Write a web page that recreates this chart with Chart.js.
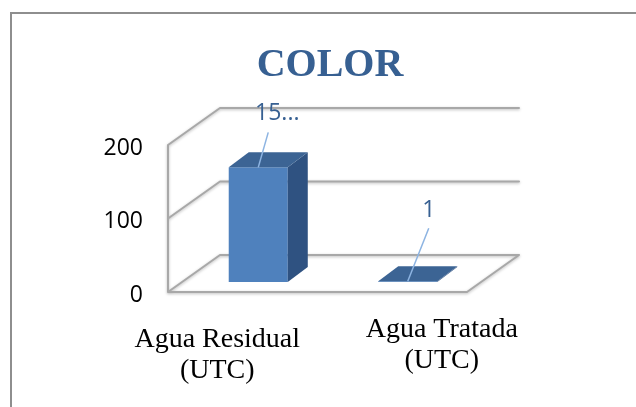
<!DOCTYPE html>
<html>
<head>
<meta charset="utf-8">
<script src="https://cdn.jsdelivr.net/npm/chart.js@4/dist/chart.umd.min.js"></script>
<style>
  html, body { margin: 0; padding: 0; background: #fff; overflow: hidden; width: 636px; height: 407px; }
  #frame { position: absolute; left: 10px; top: 12px; width: 636px; height: 400px; border: 2px solid #8e8e8e; background: #fff; }
  canvas { display: block; }
</style>
</head>
<body>
<div id="frame"><canvas id="c" width="636" height="393"></canvas></div>
<script>
// Chart data
const categories = [['Agua Residual', '(UTC)'], ['Agua Tratada', '(UTC)']];
const colorValues = [156, 1];
const yTicks = [0, 100, 200];

// 3D look: offsets of the floor front edge, back wall and bar depth
// relative to the plane where the bar front faces sit
const depth = {
  front: { dx: -15.5, dy: 10 },
  back: { dx: 36.5, dy: -27 },
  bar: { dx: 20, dy: -15 }
};
const barFront = '#4F81BD';
const barTop = '#3C6494';
const barSide = '#2F5281';
const wallLine = '#a8a8a8';
const labelBlue = '#376092';

// value labels: place relative to bar top, leader-line end relative to bar top
const valueLabelShift = [[19, -47], [21, -64]];
const leaderEnd = [[10, -35], [21, -53]];
// category label placement relative to the category centre / plot bottom
const catLabelShift = [-41, 34];
const catLabelTop = [65, 55];
const catLineGap = 31;

function shortLabel(v) {
  const s = String(v);
  return s.length > 2 ? s.slice(0, 2) + '...' : s;
}

const walls = {
  id: 'walls',
  beforeDatasetsDraw(chart) {
    const { ctx, chartArea: a, scales: { y } } = chart;
    const L = a.left, R = a.right, f = depth.front, b = depth.back;
    ctx.save();
    ctx.strokeStyle = wallLine;
    ctx.lineWidth = 2;
    ctx.lineJoin = 'round';
    ctx.lineCap = 'round';
    ctx.shadowColor = 'rgba(0,0,0,0.28)';
    ctx.shadowBlur = 3;
    ctx.shadowOffsetY = 1;
    ctx.beginPath();
    y.ticks.forEach(t => {
      const py = y.getPixelForValue(t.value);
      ctx.moveTo(L + f.dx, py + f.dy);
      ctx.lineTo(L + b.dx, py + b.dy);
      ctx.lineTo(R + b.dx, py + b.dy);
    });
    const y0 = y.getPixelForValue(y.min), y1 = y.getPixelForValue(y.max);
    ctx.moveTo(L + f.dx, y1 + f.dy);
    ctx.lineTo(L + f.dx, y0 + f.dy);
    ctx.lineTo(R + f.dx, y0 + f.dy);
    ctx.lineTo(R + b.dx, y0 + b.dy);
    ctx.stroke();
    ctx.restore();
  }
};

const solid = {
  id: 'solid',
  afterDatasetsDraw(chart) {
    const { ctx } = chart;
    const d = depth.bar;
    const meta = chart.getDatasetMeta(0);
    ctx.save();
    meta.data.forEach(el => {
      const { x, y, base, width } = el.getProps(['x', 'y', 'base', 'width'], true);
      const xl = x - width / 2, xr = x + width / 2;
      ctx.fillStyle = barSide;
      ctx.beginPath();
      ctx.moveTo(xr, y);
      ctx.lineTo(xr + d.dx, y + d.dy);
      ctx.lineTo(xr + d.dx, base + d.dy);
      ctx.lineTo(xr, base);
      ctx.closePath();
      ctx.fill();
      ctx.fillStyle = barTop;
      ctx.beginPath();
      ctx.moveTo(xl, y);
      ctx.lineTo(xr, y);
      ctx.lineTo(xr + d.dx, y + d.dy);
      ctx.lineTo(xl + d.dx, y + d.dy);
      ctx.closePath();
      ctx.fill();
    });
    // value labels with leader lines
    ctx.font = '23px "Open Sans"';
    ctx.textAlign = 'center';
    ctx.textBaseline = 'alphabetic';
    meta.data.forEach((el, i) => {
      const { x, y } = el.getProps(['x', 'y'], true);
      ctx.strokeStyle = '#8DB4E2';
      ctx.lineWidth = 1.5;
      ctx.beginPath();
      ctx.moveTo(x, y);
      ctx.lineTo(x + leaderEnd[i][0], y + leaderEnd[i][1]);
      ctx.stroke();
      ctx.fillStyle = labelBlue;
      ctx.fillText(shortLabel(colorValues[i]), x + valueLabelShift[i][0], y + valueLabelShift[i][1]);
    });
    ctx.restore();
  },
  afterDraw(chart) {
    const { ctx, chartArea: a, scales: { x } } = chart;
    ctx.save();
    ctx.font = '28px "Liberation Serif"';
    ctx.fillStyle = '#000';
    ctx.textAlign = 'center';
    ctx.textBaseline = 'alphabetic';
    categories.forEach((lines, i) => {
      const cx = x.getPixelForValue(i) + catLabelShift[i];
      lines.forEach((line, k) => {
        ctx.fillText(line, cx, a.bottom + catLabelTop[i] + k * catLineGap);
      });
    });
    ctx.restore();
  }
};

new Chart(document.getElementById('c'), {
  type: 'bar',
  data: {
    labels: categories,
    datasets: [{
      data: colorValues,
      backgroundColor: barFront,
      borderWidth: 0,
      categoryPercentage: 1,
      barPercentage: 0.395
    }]
  },
  options: {
    responsive: false,
    animation: false,
    devicePixelRatio: 1,
    layout: { padding: 0 },
    plugins: {
      legend: { display: false },
      tooltip: { enabled: false },
      title: {
        display: true,
        text: 'COLOR',
        color: labelBlue,
        font: { family: '"Liberation Serif"', size: 40, weight: 'bold', lineHeight: 1.2 },
        padding: { top: 28, bottom: 45 }
      }
    },
    scales: {
      x: {
        grid: { display: false, drawTicks: false },
        border: { display: false },
        ticks: { display: false },
        afterFit(s) { s.height = 125; }
      },
      y: {
        min: yTicks[0],
        max: yTicks[yTicks.length - 1],
        afterBuildTicks(s) { s.ticks = yTicks.map(v => ({ value: v })); },
        grid: { display: false, drawTicks: false },
        border: { display: false },
        ticks: {
          color: '#000',
          font: { family: '"Open Sans"', size: 23 },
          padding: 40.5,
          labelOffset: 13
        },
        afterFit(s) { s.width = 171.5; }
      },
      spacer: {
        type: 'linear',
        position: 'right',
        display: true,
        grid: { display: false, drawTicks: false },
        border: { display: false },
        ticks: { display: false },
        afterFit(s) { s.width = 165.5; }
      }
    }
  },
  plugins: [walls, solid]
});
</script>
</body>
</html>
